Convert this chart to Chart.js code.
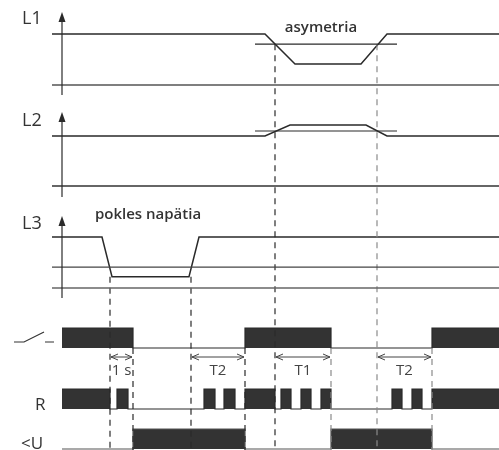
<!DOCTYPE html>
<html>
<head>
<meta charset="utf-8">
<script src="https://cdn.jsdelivr.net/npm/chart.js@4.4.1/dist/chart.umd.min.js"></script>
<style>
  html, body { margin: 0; padding: 0; background: #fff; }
  #wrap { width: 499px; height: 450px; }
</style>
</head>
<body>
<div id="wrap"><canvas id="timing" width="499" height="450"></canvas></div>
<script>
// analog phases: time points and relative level (1 = nominal)
const l1Times = [52, 265, 295, 361, 387, 499];
const l1Levels = [1, 1, 0.41, 0.41, 1, 1];
const l2Times = [52, 265, 290, 366, 387, 499];
const l2Levels = [1, 1, 1.22, 1.22, 1, 1];
const l3Times = [52, 102, 112, 189, 199, 499];
const l3Levels = [1, 1, 0.22, 0.22, 1, 1];

// threshold levels
const l1Threshold = 0.8;
const l2Threshold = 1.1;
const l3Threshold = 0.41;

// digital rows: edge times (level toggles at each)
const contactEdges = [133, 245, 331, 432];
const relayEdges = [110, 117, 128, 204, 215, 224, 235, 245, 275, 281, 291, 301, 311, 321, 331, 392, 402, 412, 422, 432];
const underEdges = [133, 245, 331, 432];

// timing marks
const crossTimes = [110, 191, 275, 377];
const delayStart = [110, 191, 275, 377];
const delayEnd = [133, 245, 331, 432];
const delayLabels = ["1 s", "T2", "T1", "T2"];

const tAxis = 62;
const tEnd = 499;

// row layout (pixel rows for level 1 and level 0)
const rows = {
  l1: { hi: 34, lo: 85 },
  l2: { hi: 136, lo: 186 },
  l3: { hi: 237, lo: 288 },
  contact: { hi: 328, lo: 348 },
  relay: { hi: 389, lo: 409 },
  under: { hi: 429, lo: 449 },
};

const ink = "#2a2a2a";
const block = "#333333";
const grey = "#8a8a8a";

function levelY(row, v) {
  return row.lo - (row.lo - row.hi) * v;
}

function analog(times, levels, row) {
  return times.map((t, i) => ({ x: t, y: levelY(row, levels[i]) }));
}

function digital(edges, row, startHigh) {
  let high = startHigh;
  let pts = [{ x: tAxis, y: high ? row.hi : row.lo }];
  edges.forEach((t) => {
    pts.push({ x: t, y: high ? row.hi : row.lo });
    high = !high;
    pts.push({ x: t, y: high ? row.hi : row.lo });
  });
  pts.push({ x: tEnd, y: high ? row.hi : row.lo });
  return pts;
}

function hline(x1, x2, y) {
  return [{ x: x1, y: y }, { x: x2, y: y }];
}

function lineSet(data, color, width, extra) {
  return Object.assign({
    type: "line",
    data: data,
    borderColor: color,
    borderWidth: width,
    pointRadius: 0,
    fill: false,
    tension: 0,
  }, extra || {});
}

let datasets = [];

// reference lines
datasets.push(lineSet(hline(52, tEnd, rows.l1.lo), "#555", 1.3));
datasets.push(lineSet(hline(52, tEnd, rows.l2.lo), "#333", 1.3));
datasets.push(lineSet(hline(52, tEnd, levelY(rows.l3, l3Threshold)), "#444", 1.2));
datasets.push(lineSet(hline(52, tEnd, rows.l3.lo), "#666", 1.3));
datasets.push(lineSet(hline(255, 397, levelY(rows.l1, l1Threshold)), ink, 1.2));
datasets.push(lineSet(hline(255, 397, levelY(rows.l2, l2Threshold)), ink, 1.2));

// dashed verticals
crossTimes.forEach((t, i) => {
  let top = t < 250 ? levelY(rows.l3, 0.22) : levelY(rows.l1, l1Threshold);
  let col = i === 3 ? grey : ink;
  datasets.push(lineSet([{ x: t, y: top }, { x: t, y: 450 }], col, 1.2, { borderDash: [6, 5] }));
});
delayEnd.forEach((t, i) => {
  let col = i >= 2 ? grey : ink;
  datasets.push(lineSet([{ x: t, y: rows.contact.lo }, { x: t, y: 450 }], col, 1.2, { borderDash: [6, 5] }));
});

// analog signals
datasets.push(lineSet(analog(l1Times, l1Levels, rows.l1), ink, 1.5));
datasets.push(lineSet(analog(l2Times, l2Levels, rows.l2), ink, 1.5));
datasets.push(lineSet(analog(l3Times, l3Levels, rows.l3), ink, 1.5));

// digital signals
datasets.push(lineSet(digital(contactEdges, rows.contact, true), ink, 1.2, {
  fill: { value: rows.contact.lo }, backgroundColor: block,
}));
datasets.push(lineSet(digital(relayEdges, rows.relay, true), ink, 1.2, {
  fill: { value: rows.relay.lo }, backgroundColor: block,
}));
datasets.push(lineSet(digital(underEdges, rows.under, false), "#555", 1.2, {
  fill: { value: rows.under.lo }, backgroundColor: block,
}));

const decorPlugin = {
  id: "decor",
  afterDatasetsDraw(chart) {
    const ctx = chart.ctx;
    const xs = chart.scales.x;
    const ys = chart.scales.y;
    const px = (v) => xs.getPixelForValue(v);
    const py = (v) => ys.getPixelForValue(v);
    ctx.save();

    // vertical amplitude axes with arrowheads
    [[12, 95], [112, 197], [216, 298]].forEach(([a, b]) => {
      ctx.strokeStyle = ink;
      ctx.lineWidth = 1.2;
      ctx.beginPath();
      ctx.moveTo(px(tAxis), py(a + 6));
      ctx.lineTo(px(tAxis), py(b));
      ctx.stroke();
      ctx.fillStyle = ink;
      ctx.beginPath();
      ctx.moveTo(px(tAxis), py(a));
      ctx.lineTo(px(tAxis) - 3.5, py(a + 10));
      ctx.lineTo(px(tAxis) + 3.5, py(a + 10));
      ctx.closePath();
      ctx.fill();
    });

    // dimension arrows
    ctx.strokeStyle = "#444";
    ctx.fillStyle = "#444";
    ctx.lineWidth = 1;
    delayStart.forEach((s, i) => {
      const x1 = px(s) + 1, x2 = px(delayEnd[i]) - 1, y = py(357);
      ctx.beginPath();
      ctx.moveTo(x1, y);
      ctx.lineTo(x2, y);
      ctx.moveTo(x1 + 7, y - 3);
      ctx.lineTo(x1, y);
      ctx.lineTo(x1 + 7, y + 3);
      ctx.moveTo(x2 - 7, y - 3);
      ctx.lineTo(x2, y);
      ctx.lineTo(x2 - 7, y + 3);
      ctx.stroke();
      ctx.font = "15px 'Open Sans'";
      ctx.textAlign = "center";
      ctx.textBaseline = "middle";
      ctx.fillText(delayLabels[i], (x1 + x2) / 2, py(371));
    });

    // row labels
    ctx.fillStyle = "#333";
    ctx.font = "18px 'Open Sans'";
    ctx.textAlign = "left";
    ctx.textBaseline = "alphabetic";
    ctx.fillText("L1", 22, 24);
    ctx.fillText("L2", 22, 126);
    ctx.fillText("L3", 22, 229);
    ctx.font = "17px 'Open Sans'";
    ctx.fillText("R", 35, 410);
    ctx.fillText("<U", 21, 449);

    // contact symbol
    ctx.strokeStyle = "#333";
    ctx.lineWidth = 1.2;
    ctx.beginPath();
    ctx.moveTo(14, 342);
    ctx.lineTo(24, 342);
    ctx.lineTo(44, 332);
    ctx.moveTo(45, 342);
    ctx.lineTo(54, 342);
    ctx.stroke();

    // annotations
    ctx.fillStyle = "#333";
    ctx.font = "600 15px 'Open Sans'";
    ctx.textAlign = "center";
    ctx.fillText("asymetria", 321, 32);
    ctx.fillText("pokles napätia", 148, 219);

    ctx.restore();
  },
};

new Chart(document.getElementById("timing"), {
  type: "line",
  data: { datasets: datasets },
  options: {
    responsive: false,
    animation: false,
    layout: { padding: 0 },
    parsing: false,
    scales: {
      x: { type: "linear", min: 0, max: 499, display: false },
      y: { type: "linear", min: 0, max: 450, reverse: true, display: false },
    },
    plugins: {
      legend: { display: false },
      tooltip: { enabled: false },
    },
  },
  plugins: [decorPlugin],
});
</script>
</body>
</html>
